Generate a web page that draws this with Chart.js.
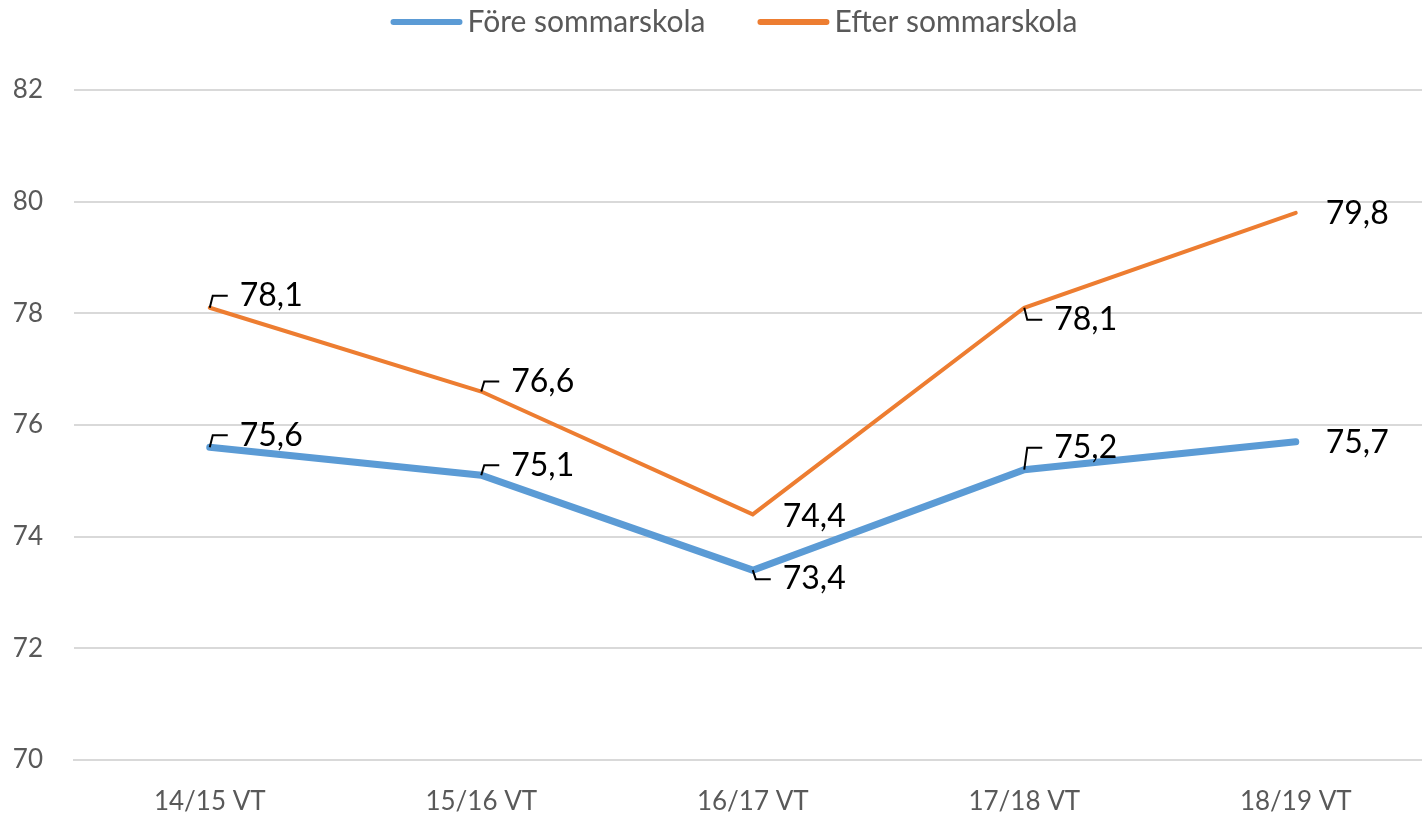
<!DOCTYPE html>
<html>
<head>
<meta charset="utf-8">
<script src="https://cdn.jsdelivr.net/npm/chart.js@4"></script>
<style>
  html, body { margin: 0; padding: 0; background: #ffffff; }
  #wrap { width: 1422px; height: 816px; }
</style>
</head>
<body>
<div id="wrap"><canvas id="chart"></canvas></div>
<script>
// Chart data
const terms = ['14/15 VT', '15/16 VT', '16/17 VT', '17/18 VT', '18/19 VT'];
const beforeSummer = [75.6, 75.1, 73.4, 75.2, 75.7];
const afterSummer = [78.1, 76.6, 74.4, 78.1, 79.8];
const yTicks = [70, 72, 74, 76, 78, 80, 82];

// Where each data label sits relative to its point (px), and whether it gets a leader line
const beforeLabelDy = [-12, -10, 9, -22, 1];
const beforeLeader = [true, true, true, true, false];
const afterLabelDy = [-12, -10, 2, 12, 1];
const afterLeader = [true, true, false, true, false];

const FONT = 'Lato, "Open Sans", sans-serif';
const AXIS_GREY = '#595959';
const GRID_GREY = '#d9d9d9';

// points as {x: category index, y: value} so the x axis can run past the right edge
const toPoints = arr => arr.map((v, i) => ({ x: i, y: v }));

// Excel-style data labels with small elbow leader lines
const dataLabels = {
    id: 'dataLabels',
    afterDatasetsDraw(chart) {
        const ctx = chart.ctx;
        chart.data.datasets.forEach((ds, di) => {
            const meta = chart.getDatasetMeta(di);
            meta.data.forEach((pt, i) => {
                const ly = pt.y + ds.labelDy[i];
                ctx.save();
                if (ds.leader[i]) {
                    ctx.strokeStyle = '#000';
                    ctx.lineWidth = 2;
                    ctx.beginPath();
                    ctx.moveTo(pt.x, pt.y);
                    ctx.lineTo(pt.x + 3, ly);
                    ctx.lineTo(pt.x + 18, ly);
                    ctx.stroke();
                }
                ctx.fillStyle = '#000';
                ctx.font = '32px ' + FONT;
                ctx.textAlign = 'left';
                ctx.textBaseline = 'middle';
                ctx.fillText(ds.data[i].y.toFixed(1).replace('.', ','), pt.x + 30, ly);
                ctx.restore();
            });
        });
    }
};

// Legend drawn by hand: long line swatch, tight gap to the text
const topLegend = {
    id: 'topLegend',
    afterDraw(chart) {
        const ctx = chart.ctx;
        const lineLen = 72, gap = 5, itemGap = 52, centerX = 734, y = 22;
        ctx.save();
        ctx.font = '30px ' + FONT;
        const items = chart.data.datasets.map(ds => ({
            ds, w: lineLen + gap + ctx.measureText(ds.label).width
        }));
        const total = items.reduce((s, it) => s + it.w, 0) + itemGap * (items.length - 1);
        let x = centerX - total / 2;
        items.forEach(({ ds, w }) => {
            ctx.strokeStyle = ds.borderColor;
            ctx.lineWidth = 6;
            ctx.lineCap = 'round';
            ctx.beginPath();
            ctx.moveTo(x + 3, y);
            ctx.lineTo(x + lineLen - 3, y);
            ctx.stroke();
            ctx.fillStyle = AXIS_GREY;
            ctx.textAlign = 'left';
            ctx.textBaseline = 'middle';
            ctx.fillText(ds.label, x + lineLen + gap, y);
            x += w + itemGap;
        });
        ctx.restore();
    }
};

const config = {
    type: 'line',
    data: {
        datasets: [
            {
                label: 'Före sommarskola',
                data: toPoints(beforeSummer),
                borderColor: '#5b9bd5',
                backgroundColor: '#5b9bd5',
                borderWidth: 7,
                borderCapStyle: 'round',
                pointRadius: 0,
                labelDy: beforeLabelDy,
                leader: beforeLeader
            },
            {
                label: 'Efter sommarskola',
                data: toPoints(afterSummer),
                borderColor: '#ed7d31',
                backgroundColor: '#ed7d31',
                borderWidth: 4,
                borderCapStyle: 'round',
                pointRadius: 0,
                labelDy: afterLabelDy,
                leader: afterLeader
            }
        ]
    },
    options: {
        responsive: true,
        maintainAspectRatio: false,
        animation: false,
        layout: { padding: { left: 0, right: 0, top: 90, bottom: 0 } },
        plugins: {
            legend: { display: false },
            tooltip: { enabled: false }
        },
        scales: {
            x: {
                type: 'linear',
                min: -0.5,
                max: 4.465, // the reference plot is cut off at the right edge
                afterBuildTicks(scale) {
                    scale.ticks = terms.map((t, i) => ({ value: i }));
                },
                grid: { display: false, drawTicks: false },
                border: { display: true, color: GRID_GREY, width: 2 },
                ticks: {
                    color: AXIS_GREY,
                    font: { family: FONT, size: 26 },
                    padding: 26,
                    maxRotation: 0,
                    autoSkip: false,
                    callback: v => terms[v]
                },
                afterFit(scale) { scale.height = 56; }
            },
            y: {
                min: 70,
                max: 82,
                afterBuildTicks(scale) {
                    scale.ticks = yTicks.map(v => ({ value: v }));
                },
                grid: { color: GRID_GREY, lineWidth: 2, drawTicks: false },
                border: { display: false },
                ticks: {
                    color: AXIS_GREY,
                    font: { family: FONT, size: 26 },
                    padding: 31
                },
                afterFit(scale) { scale.width = 74; }
            }
        }
    },
    plugins: [dataLabels, topLegend]
};

new Chart(document.getElementById('chart'), config);
</script>
</body>
</html>
